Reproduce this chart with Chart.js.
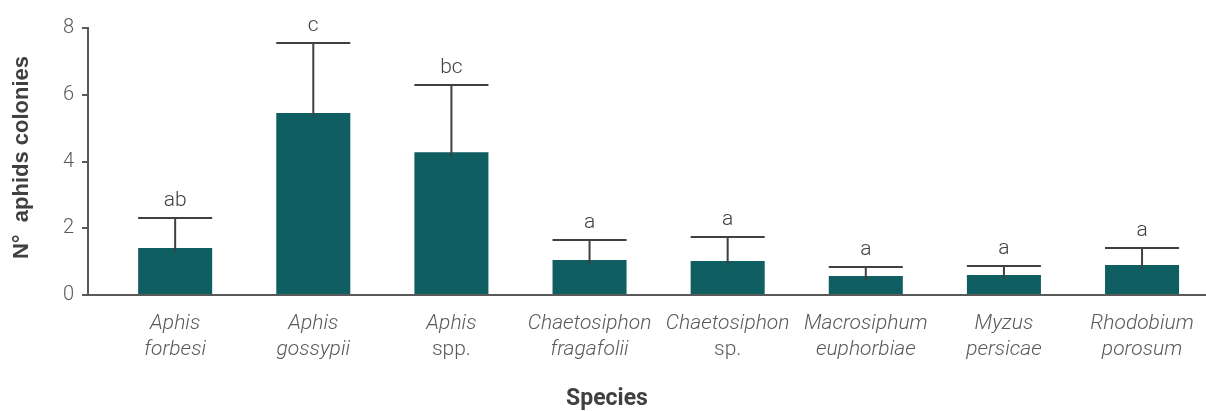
<!DOCTYPE html>
<html>
<head>
<meta charset="utf-8">
<script src="https://cdn.jsdelivr.net/npm/chart.js@4/dist/chart.umd.min.js"></script>
<style>
  html, body { margin: 0; padding: 0; background: #ffffff; }
  #wrap { width: 1206px; height: 411px; }
</style>
</head>
<body>
<div id="wrap"><canvas id="c" width="1206" height="411"></canvas></div>
<script>
// Aphid species (genus on the first line, epithet on the second)
const genus = ['Aphis', 'Aphis', 'Aphis', 'Chaetosiphon', 'Chaetosiphon', 'Macrosiphum', 'Myzus', 'Rhodobium'];
const epithet = ['forbesi', 'gossypii', 'spp.', 'fragafolii', 'sp.', 'euphorbiae', 'persicae', 'porosum'];
// Abbreviations written upright, not in italics
const uprightWords = ['spp.', 'sp.'];

// Mean number of colonies and its standard error
const meanColonies = [1.41, 5.45, 4.28, 1.05, 1.02, 0.57, 0.60, 0.90];
const stdError = [0.90, 2.10, 2.01, 0.60, 0.72, 0.27, 0.27, 0.51];
// Letters of the mean comparison test
const groupLetters = ['ab', 'c', 'bc', 'a', 'a', 'a', 'a', 'a'];

const yTicks = [0, 2, 4, 6, 8];

const BAR = '#0f5f62';
const INK = '#404040';
const TICK = '#595959';

const errorBarsPlugin = {
  id: 'errorBars',
  afterDatasetsDraw(chart) {
    const ctx = chart.ctx;
    const meta = chart.getDatasetMeta(0);
    const y = chart.scales.y;
    ctx.save();
    ctx.strokeStyle = INK;
    ctx.lineWidth = 2;
    meta.data.forEach((bar, i) => {
      const top = y.getPixelForValue(meanColonies[i] + stdError[i]);
      const half = bar.width / 2;
      ctx.beginPath();
      ctx.moveTo(bar.x, bar.y + 4);
      ctx.lineTo(bar.x, top);
      ctx.moveTo(bar.x - half, top);
      ctx.lineTo(bar.x + half, top);
      ctx.stroke();
      ctx.fillStyle = INK;
      ctx.font = '300 21px Roboto';
      ctx.textAlign = 'center';
      ctx.textBaseline = 'alphabetic';
      ctx.fillText(groupLetters[i], bar.x, top - 12);
    });
    ctx.restore();
  }
};

const speciesLabelsPlugin = {
  id: 'speciesLabels',
  afterDraw(chart) {
    const ctx = chart.ctx;
    const x = chart.scales.x;
    const base = chart.chartArea.bottom;
    ctx.save();
    ctx.fillStyle = TICK;
    ctx.textAlign = 'center';
    ctx.textBaseline = 'middle';
    genus.forEach((g, i) => {
      const px = x.getPixelForValue(i);
      [g, epithet[i]].forEach((word, line) => {
        const italic = !uprightWords.includes(word);
        ctx.font = (italic ? 'italic ' : '') + '300 21px Roboto';
        ctx.fillText(word, px, base + 29 + line * 26);
      });
    });
    // axis titles
    ctx.fillStyle = INK;
    ctx.font = 'bold 23px Roboto';
    ctx.fillText('Species', chart.width / 2 + 4, 399);
    ctx.translate(22, (chart.chartArea.top + chart.chartArea.bottom) / 2 - 4);
    ctx.rotate(-Math.PI / 2);
    ctx.font = 'bold 22px "Liberation Sans"';
    ctx.fillText('N\u00b0  aphids colonies', 0, 0);
    ctx.restore();
  }
};

new Chart(document.getElementById('c'), {
  type: 'bar',
  data: {
    datasets: [{
      data: meanColonies.map((v, i) => ({ x: i, y: v })),
      backgroundColor: BAR,
      borderWidth: 0,
      barPercentage: 0.536,
      categoryPercentage: 1
    }]
  },
  options: {
    responsive: false,
    devicePixelRatio: 1,
    animation: false,
    layout: { padding: { top: 28, right: 0, bottom: 0, left: 0 } },
    plugins: { legend: { display: false }, tooltip: { enabled: false } },
    scales: {
      x: {
        type: 'linear',
        offset: false,
        min: -0.631,
        max: 7.463,
        afterBuildTicks: (s) => { s.ticks = genus.map((_, i) => ({ value: i })); },
        afterFit: (s) => { s.height = 116; },
        ticks: { display: false },
        grid: { display: false, drawTicks: false },
        border: { display: true, color: TICK, width: 2 }
      },
      y: {
        min: 0,
        max: 8,
        afterBuildTicks: (s) => { s.ticks = yTicks.map(v => ({ value: v })); },
        afterFit: (s) => { s.width = 88; },
        ticks: {
          color: TICK,
          font: { family: 'Roboto', weight: '300', size: 20 },
          padding: 8
        },
        grid: { drawOnChartArea: false, drawTicks: true, tickLength: 6, color: TICK, lineWidth: 2 },
        border: { display: true, color: TICK, width: 2 }
      }
    }
  },
  plugins: [errorBarsPlugin, speciesLabelsPlugin]
});
</script>
</body>
</html>
